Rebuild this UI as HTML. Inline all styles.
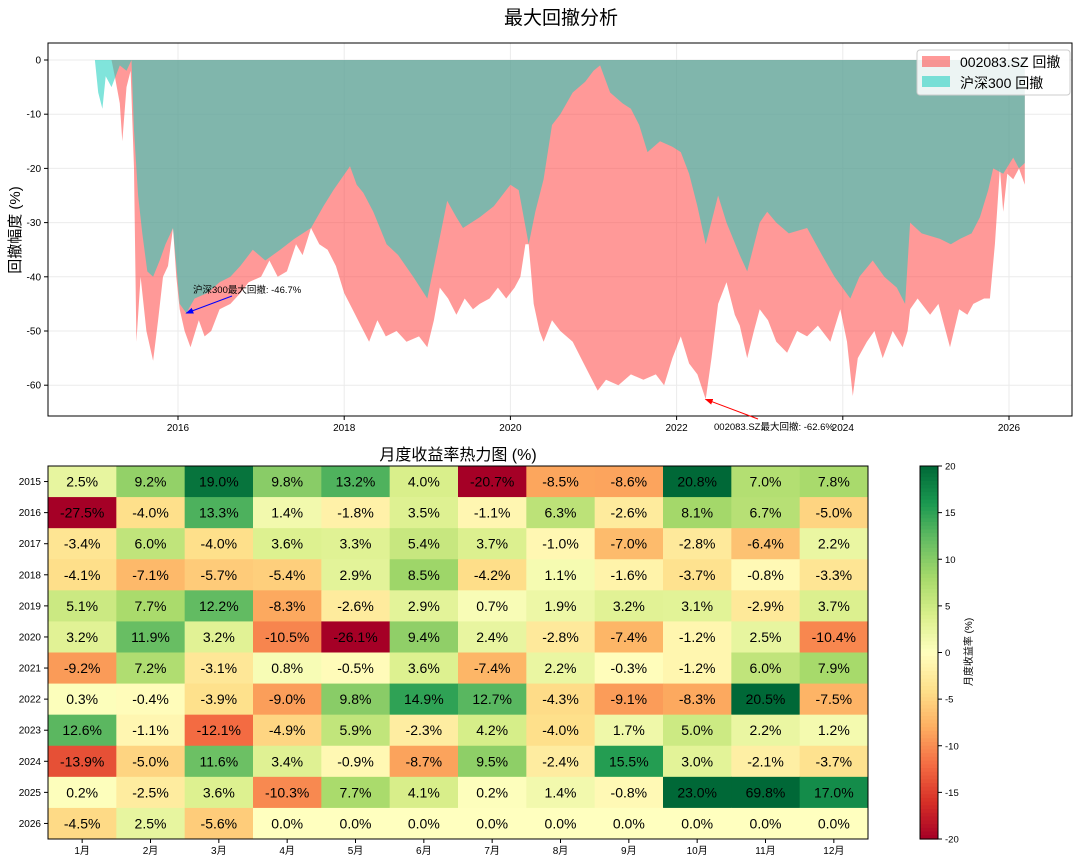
<!DOCTYPE html>
<html><head><meta charset="utf-8">
<style>
body{margin:0;background:#fff;}
svg{display:block;font-family:"Liberation Sans","Noto Sans CJK SC",sans-serif;}
</style></head>
<body>
<svg id="c" width="1080" height="862"></svg>
<script>
// ---- data ----
const stockDates=[2015.00,2015.20,2015.24,2015.30,2015.33,2015.38,2015.43,2015.47,2015.50,2015.55,2015.62,2015.70,2015.76,2015.82,2015.88,2015.94,2015.98,2016.02,2016.08,2016.15,2016.25,2016.32,2016.40,2016.50,2016.63,2016.75,2016.85,2017.00,2017.10,2017.20,2017.31,2017.42,2017.50,2017.60,2017.70,2017.80,2017.90,2018.00,2018.10,2018.20,2018.30,2018.40,2018.50,2018.63,2018.75,2018.90,2019.00,2019.08,2019.15,2019.25,2019.35,2019.45,2019.55,2019.63,2019.75,2019.85,2019.95,2020.05,2020.12,2020.18,2020.22,2020.28,2020.35,2020.40,2020.50,2020.60,2020.75,2020.85,2020.95,2021.05,2021.15,2021.30,2021.45,2021.60,2021.75,2021.85,2021.95,2022.05,2022.15,2022.25,2022.35,2022.42,2022.50,2022.60,2022.70,2022.76,2022.85,2022.93,2023.00,2023.10,2023.20,2023.33,2023.45,2023.57,2023.70,2023.85,2023.97,2024.05,2024.12,2024.18,2024.29,2024.38,2024.48,2024.60,2024.72,2024.78,2024.81,2024.90,2025.05,2025.15,2025.29,2025.40,2025.50,2025.57,2025.70,2025.77,2025.83,2025.89,2025.93,2025.98,2026.05,2026.12,2026.19];
const stockDD=[0,0,-3,-8,-15,-5,-2,-20,-52,-40,-50,-55.5,-48,-40,-38,-31,-40,-46,-50,-53,-48,-51,-50,-46,-45,-43,-41,-40,-37,-40,-39,-34,-36,-31,-34,-35,-38,-43,-46,-49,-52,-48,-51,-50,-52,-51,-53,-48,-42,-44,-47,-44,-46,-45,-44,-42,-44,-42,-40,-34,-34,-45,-50,-52,-48,-50,-52,-55,-58,-61,-59,-60,-58,-59,-58,-60,-55,-51,-56,-58,-62.6,-55,-45,-41,-47,-49,-55,-50,-46,-48,-52,-54,-50,-51,-49,-52,-46,-52,-62,-55,-52,-50,-55,-50,-53,-50,-46,-44,-47,-45,-53,-46,-47,-45,-44,-44,-34,-20,-28,-21,-22,-20,-23];
const csiDates=[2015.00,2015.04,2015.09,2015.13,2015.20,2015.30,2015.38,2015.44,2015.47,2015.52,2015.57,2015.63,2015.70,2015.78,2015.85,2015.94,2016.02,2016.10,2016.20,2016.35,2016.50,2016.63,2016.75,2016.90,2017.05,2017.23,2017.40,2017.60,2017.75,2017.87,2018.07,2018.15,2018.23,2018.35,2018.51,2018.65,2018.83,2019.00,2019.12,2019.24,2019.35,2019.43,2019.63,2019.80,2020.00,2020.10,2020.22,2020.30,2020.40,2020.50,2020.60,2020.75,2020.90,2021.00,2021.08,2021.20,2021.35,2021.45,2021.55,2021.65,2021.80,2021.95,2022.05,2022.15,2022.25,2022.35,2022.45,2022.50,2022.60,2022.76,2022.85,2023.00,2023.09,2023.20,2023.35,2023.57,2023.75,2023.90,2024.09,2024.20,2024.36,2024.50,2024.65,2024.75,2024.81,2024.95,2025.17,2025.30,2025.41,2025.55,2025.65,2025.75,2025.81,2025.93,2026.05,2026.12,2026.19];
const csiDD=[0,-6,-9,-3,-5,-1,-2,0,-13,-25,-32,-39,-40,-37,-34,-31,-45,-46.7,-44,-43,-41,-40,-38,-35,-37,-35,-33,-31,-27,-24,-19.6,-23,-24.5,-28,-34,-36,-40,-44,-35,-26,-29,-31,-29,-27,-23,-24,-34,-28,-22,-12,-10,-6,-4,-2,-1,-6,-8,-9,-12,-17,-15,-16,-17,-21,-27,-34,-28,-25,-30,-36,-39,-30,-28,-30,-32,-31,-36,-40,-44,-40,-37,-40,-42,-45,-30,-32,-33,-34,-33,-32,-29,-24,-20,-21,-18,-20,-19];
const months=['1月','2月','3月','4月','5月','6月','7月','8月','9月','10月','11月','12月'];
const yearsH=['2015','2016','2017','2018','2019','2020','2021','2022','2023','2024','2025','2026'];
const r2015=[2.5,9.2,19.0,9.8,13.2,4.0,-20.7,-8.5,-8.6,20.8,7.0,7.8];
const r2016=[-27.5,-4.0,13.3,1.4,-1.8,3.5,-1.1,6.3,-2.6,8.1,6.7,-5.0];
const r2017=[-3.4,6.0,-4.0,3.6,3.3,5.4,3.7,-1.0,-7.0,-2.8,-6.4,2.2];
const r2018=[-4.1,-7.1,-5.7,-5.4,2.9,8.5,-4.2,1.1,-1.6,-3.7,-0.8,-3.3];
const r2019=[5.1,7.7,12.2,-8.3,-2.6,2.9,0.7,1.9,3.2,3.1,-2.9,3.7];
const r2020=[3.2,11.9,3.2,-10.5,-26.1,9.4,2.4,-2.8,-7.4,-1.2,2.5,-10.4];
const r2021=[-9.2,7.2,-3.1,0.8,-0.5,3.6,-7.4,2.2,-0.3,-1.2,6.0,7.9];
const r2022=[0.3,-0.4,-3.9,-9.0,9.8,14.9,12.7,-4.3,-9.1,-8.3,20.5,-7.5];
const r2023=[12.6,-1.1,-12.1,-4.9,5.9,-2.3,4.2,-4.0,1.7,5.0,2.2,1.2];
const r2024=[-13.9,-5.0,11.6,3.4,-0.9,-8.7,9.5,-2.4,15.5,3.0,-2.1,-3.7];
const r2025=[0.2,-2.5,3.6,-10.3,7.7,4.1,0.2,1.4,-0.8,23.0,69.8,17.0];
const r2026=[-4.5,2.5,-5.6,0.0,0.0,0.0,0.0,0.0,0.0,0.0,0.0,0.0];
const returns=[r2015,r2016,r2017,r2018,r2019,r2020,r2021,r2022,r2023,r2024,r2025,r2026];
const yTicks=[0,-10,-20,-30,-40,-50,-60];
const xTicks=[2016,2018,2020,2022,2024,2026];
const cbTicks=[20,15,10,5,0,-5,-10,-15,-20];

// ---- helpers ----
const NS='http://www.w3.org/2000/svg';
const svg=document.getElementById('c');
function mk(tag,attrs,parent,text){const e=document.createElementNS(NS,tag);for(const k in attrs)e.setAttribute(k,attrs[k]);if(text!==undefined)e.textContent=text;(parent||svg).appendChild(e);return e;}
const X0=48,X1=1072,Y0=43,Y1=416;
const xs=v=>178+(v-2016)*83.1;
const ys=v=>60-v*5.42;
const RED='rgba(255,70,68,0.55)',TEAL='rgba(24,205,190,0.55)';

let t=mk('text',{x:561,y:24,'font-size':19,'text-anchor':'middle'},svg,'最大回撤分析');


const grid=mk('g',{});
yTicks.forEach(v=>mk('line',{x1:X0,x2:X1,y1:ys(v),y2:ys(v),stroke:'#ebebeb','stroke-width':1},grid));
xTicks.forEach(v=>mk('line',{x1:xs(v),x2:xs(v),y1:Y0,y2:Y1,stroke:'#ebebeb','stroke-width':1},grid));

function area(dates,vals,fill,name){
  let d='M'+xs(dates[0])+','+ys(0);
  dates.forEach((x,i)=>{d+=' L'+xs(x).toFixed(1)+','+ys(vals[i]).toFixed(1);});
  d+=' L'+xs(dates[dates.length-1])+','+ys(0)+' Z';
  const p=mk('path',{d:d,fill:fill});
  
}
area(stockDates,stockDD,RED,'stock-drawdown-area');
area(csiDates,csiDD,TEAL,'csi300-drawdown-area');

const fr=mk('rect',{x:X0,y:Y0,width:X1-X0,height:Y1-Y0,fill:'none',stroke:'#000','stroke-width':1});

yTicks.forEach(v=>{mk('line',{x1:X0-4,x2:X0,y1:ys(v),y2:ys(v),stroke:'#000'});
  const l=mk('text',{x:X0-7,y:ys(v)+3.5,'font-size':10,'text-anchor':'end'},svg,String(v));
  });
xTicks.forEach(v=>{mk('line',{x1:xs(v),x2:xs(v),y1:Y1,y2:Y1+4,stroke:'#000'});
  const l=mk('text',{x:xs(v),y:Y1+15,'font-size':10,'text-anchor':'middle'},svg,String(v));
  });
t=mk('text',{x:20,y:230,'font-size':15,'text-anchor':'middle',transform:'rotate(-90 20 230)'},svg,'回撤幅度 (%)');


mk('defs',{}).innerHTML='<marker id="ab" markerWidth="8" markerHeight="6" refX="7" refY="3" orient="auto"><path d="M0,0 L8,3 L0,6 Z" fill="blue"/></marker><marker id="ar" markerWidth="8" markerHeight="6" refX="7" refY="3" orient="auto"><path d="M0,0 L8,3 L0,6 Z" fill="red"/></marker>';
mk('line',{x1:232,y1:296,x2:xs(2016.1),y2:ys(-46.7),stroke:'blue','stroke-width':1,'marker-end':'url(#ab)'});
t=mk('text',{x:193,y:293,'font-size':9.5},svg,'沪深300最大回撤: -46.7%');

mk('line',{x1:758,y1:419,x2:xs(2022.35),y2:ys(-62.6),stroke:'red','stroke-width':1,'marker-end':'url(#ar)'});
t=mk('text',{x:714,y:430,'font-size':9.5},svg,'002083.SZ最大回撤: -62.6%');


const lg=mk('g',{});
mk('rect',{x:917,y:50,width:153,height:45,fill:'#fff','fill-opacity':0.85,stroke:'#ccc',rx:3},lg);
mk('rect',{x:922,y:56,width:28,height:11,fill:RED},lg);
mk('text',{x:960,y:67,'font-size':14},lg,'002083.SZ 回撤');
mk('rect',{x:922,y:76,width:28,height:11,fill:TEAL},lg);
mk('text',{x:960,y:88,'font-size':14},lg,'沪深300 回撤');

// ---- heatmap ----
const stops=[[165,0,38],[215,48,39],[244,109,67],[253,174,97],[254,224,139],[255,255,191],[217,239,139],[166,217,106],[102,189,99],[26,152,80],[0,104,55]];
function cmap(v){let f=(Math.max(-20,Math.min(20,v))+20)/40*10;let i=Math.min(9,Math.floor(f)),r=f-i;const a=stops[i],b=stops[i+1];return 'rgb('+a.map((c,k)=>Math.round(c+(b[k]-c)*r)).join(',')+')';}
const HX0=48,HX1=868,HY0=466,HY1=839;const cw=(HX1-HX0)/12,ch=(HY1-HY0)/12;
t=mk('text',{x:458,y:460,'font-size':16,'text-anchor':'middle'},svg,'月度收益率热力图 (%)');

const hm=mk('g',{});
returns.forEach((row,ri)=>row.forEach((v,ci)=>{
  const r=mk('rect',{x:HX0+ci*cw,y:HY0+ri*ch,width:cw+0.5,height:ch+0.5,fill:cmap(v)},hm);
  
  const tx=mk('text',{x:HX0+ci*cw+cw/2,y:HY0+ri*ch+ch/2+5,'font-size':14,'text-anchor':'middle'},hm,v.toFixed(1)+'%');
  
}));
mk('rect',{x:HX0,y:HY0,width:HX1-HX0,height:HY1-HY0,fill:'none',stroke:'#000'});
months.forEach((m,i)=>{const l=mk('text',{x:HX0+i*cw+cw/2,y:HY1+15,'font-size':10,'text-anchor':'middle'},svg,m);
  
  mk('line',{x1:HX0+i*cw+cw/2,x2:HX0+i*cw+cw/2,y1:HY1,y2:HY1+4,stroke:'#000'});});
yearsH.forEach((y,i)=>{const l=mk('text',{x:HX0-7,y:HY0+i*ch+ch/2+3.5,'font-size':10,'text-anchor':'end'},svg,y);
  
  mk('line',{x1:HX0-4,x2:HX0,y1:HY0+i*ch+ch/2,y2:HY0+i*ch+ch/2,stroke:'#000'});});

const cb=mk('g',{});
const CX=920,CW=18;
for(let k=0;k<100;k++){const v=20-40*k/100;mk('rect',{x:CX,y:HY0+k*(HY1-HY0)/100,width:CW,height:(HY1-HY0)/100+0.6,fill:cmap(v-0.2)},cb);}
mk('rect',{x:CX,y:HY0,width:CW,height:HY1-HY0,fill:'none',stroke:'#000'},cb);
cbTicks.forEach(v=>{const yy=HY0+(20-v)/40*(HY1-HY0);mk('line',{x1:CX+CW,x2:CX+CW+4,y1:yy,y2:yy,stroke:'#000'},cb);
  mk('text',{x:CX+CW+7,y:yy+3.5,'font-size':9.5},cb,String(v));});
t=mk('text',{x:972,y:652,'font-size':10,'text-anchor':'middle',transform:'rotate(-90 972 652)'},svg,'月度收益率 (%)');

</script>
</body></html>
